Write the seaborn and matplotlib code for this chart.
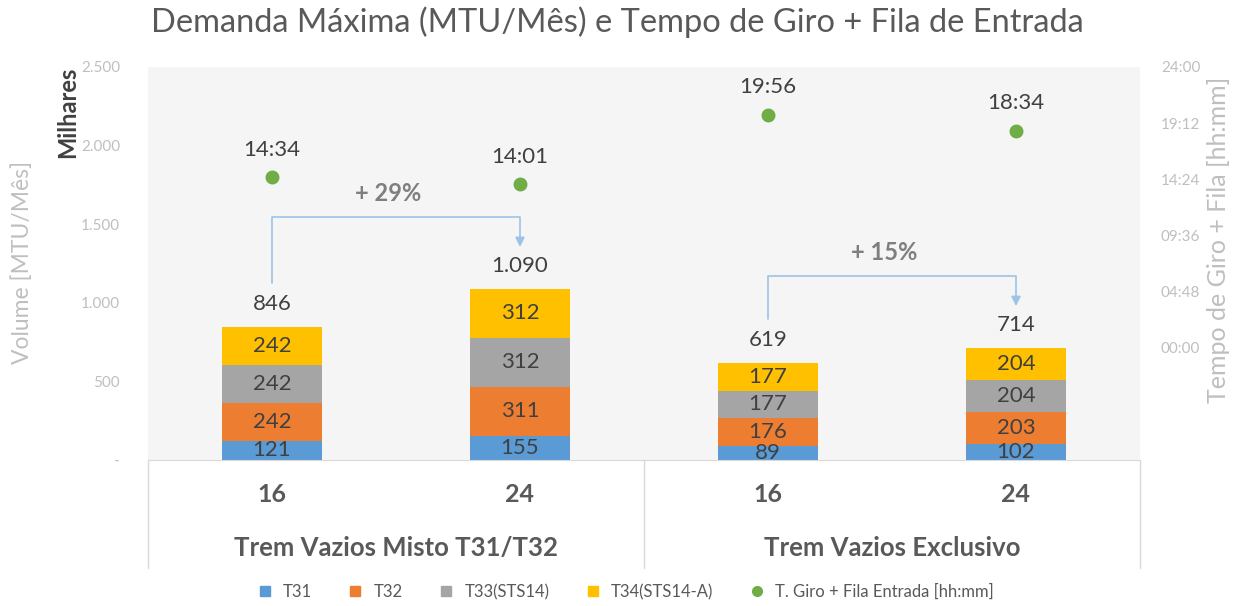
import numpy as np
import pandas as pd
import matplotlib
import matplotlib.pyplot as plt
import seaborn as sns
from matplotlib.lines import Line2D

# Data (volume in thousands of MTU/month, times as hh:mm)
groups = ["Trem Vazios Misto T31/T32", "Trem Vazios Exclusivo"]
trains = ["16", "24", "16", "24"]
config = ["Misto 16", "Misto 24", "Excl 16", "Excl 24"]
t31 = [121, 155, 89, 102]
t32 = [242, 311, 176, 203]
t33 = [242, 312, 177, 204]
t34 = [242, 312, 177, 204]
totals = [846, 1090, 619, 714]
giro = ["14:34", "14:01", "19:56", "18:34"]
growth = ["+ 29%", "+ 15%"]

series = ["T31", "T32", "T33(STS14)", "T34(STS14-A)"]
colors = ["#5B9BD5", "#ED7D31", "#A5A5A5", "#FFC000"]
green = "#70AD47"


def hhmm_to_days(s):
    h, m = s.split(":")
    return (int(h) + int(m) / 60) / 24


def fmt_thousands(v, pos=None):
    if v == 0:
        return "-"
    return f"{int(v):,}".replace(",", ".")


def fmt_hhmm(v, pos=None):
    mins = int(round(v * 24 * 60))
    return f"{mins // 60:02d}:{mins % 60:02d}"


df = pd.DataFrame({"config": config, "T31": t31, "T32": t32, "T33": t33, "T34": t34,
                   "giro": [hhmm_to_days(g) for g in giro]})
stack_cols = ["T31", "T32", "T33", "T34"]
cum = df[stack_cols].cumsum(axis=1)

sns.set_style("white")
plt.rcParams['font.family'] = ['Lato', 'DejaVu Sans']

fig = plt.figure(figsize=(12.4, 6.06), dpi=100)
ax = fig.add_axes([148 / 1240, 1 - 460 / 606, (1140 - 148) / 1240, (460 - 67) / 606])
ax.set_facecolor("#F5F5F5")

# stacked bars: draw cumulative totals from top down
for col, c in zip(reversed(stack_cols), reversed(colors)):
    sns.barplot(x=df["config"], y=cum[col], color=c, width=0.4, saturation=1,
                order=config, ax=ax, zorder=2, linewidth=0, edgecolor="none")

# segment labels
for i in range(len(config)):
    bottom = 0
    for col in stack_cols:
        v = df[col][i]
        ax.text(i, bottom + v / 2, str(v), ha="center", va="center",
                fontsize=16, color="#404040", zorder=5)
        bottom += v
    ax.text(i, totals[i] + 145, fmt_thousands(totals[i]), ha="center", va="center",
            fontsize=16, color="#404040", zorder=5)

ax.set_ylim(0, 2500)
ax.set_xlim(-0.5, 3.5)
ax.set_yticks(np.arange(0, 2501, 500))
ax.yaxis.set_major_formatter(matplotlib.ticker.FuncFormatter(fmt_thousands))
ax.tick_params(axis="y", colors="#BFBFBF", labelsize=11, length=0, pad=20)
ax.set_xticks([])
ax.set_xlabel("")
ax.set_ylabel("")
for s in ["left", "right", "top"]:
    ax.spines[s].set_visible(False)
ax.spines["bottom"].set_color("#D9D9D9")

# growth connectors
line_c = "#9DC3E6"
for k, (a, b) in enumerate([(0, 1), (2, 3)]):
    y0 = totals[a] + 280
    tip = totals[b] + 265
    yh = tip + 190
    ax.plot([a, a, b, b], [y0, yh, yh, tip + 40], color=line_c, lw=1.2, zorder=3)
    ax.annotate("", xy=(b, tip), xytext=(b, tip + 60),
                arrowprops=dict(arrowstyle="-|>", color=line_c, lw=1.2,
                                mutation_scale=14, shrinkA=0, shrinkB=0), zorder=3)
    ax.text((a + b) / 2 - 0.03, yh + 150, growth[k], ha="center", va="center",
            fontsize=17, fontweight="bold", color="#7F7F7F", zorder=5)

# secondary axis: turnaround time
ax2 = ax.twinx()
sns.pointplot(x=df["config"], y=df["giro"], order=config, color=green, linestyle="none",
              markers="o", markersize=8, ax=ax2, zorder=4)
ax2.set_ylim(-0.4, 1.0)
ax2.set_xlim(-0.5, 3.5)
ax2.set_yticks(np.arange(0, 1.01, 0.2))
ax2.yaxis.set_major_formatter(matplotlib.ticker.FuncFormatter(fmt_hhmm))
ax2.tick_params(axis="y", colors="#BFBFBF", labelsize=11, length=0, pad=15)
ax2.set_ylabel("")
ax2.set_xlabel("")
for s in ["left", "right", "top", "bottom"]:
    ax2.spines[s].set_visible(False)
for i, g in enumerate(giro):
    ax2.text(i, df["giro"][i] + 0.097, g, ha="center", va="center",
             fontsize=16, color="#404040")

# multi-level category axis
tr = ax.transAxes
depth = -(568 - 460) / 393
for xa in [0, 0.5, 1]:
    ax.plot([xa, xa], [0, depth], color="#D9D9D9", lw=1, transform=tr, clip_on=False)
for i, t in enumerate(trains):
    ax.text((i + 0.5) / 4, -35 / 393, t, transform=tr, ha="center", va="center",
            fontsize=18, fontweight="bold", color="#595959")
for j, g in enumerate(groups):
    ax.text(0.25 + 0.5 * j, -88 / 393, g, transform=tr, ha="center", va="center",
            fontsize=18.5, fontweight="bold", color="#595959")

# titles and axis labels
fig.text(617 / 1240, 1 - 22 / 606, "Demanda Máxima (MTU/Mês) e Tempo de Giro + Fila de Entrada",
         ha="center", va="center", fontsize=23.5, color="#595959")
fig.text(22 / 1240, 1 - 262 / 606, "Volume [MTU/Mês]", rotation=90, ha="center", va="center",
         fontsize=16.5, color="#BFBFBF")
fig.text(68 / 1240, 1 - 112 / 606, "Milhares", rotation=90, ha="center", va="center",
         fontsize=17, fontweight="bold", color="#404040")
fig.text(1218 / 1240, 1 - 240 / 606, "Tempo de Giro + Fila [hh:mm]", rotation=90,
         ha="center", va="center", fontsize=18, color="#BFBFBF")

# legend
handles = [Line2D([], [], marker="s", linestyle="none", color=c, markersize=7) for c in colors]
handles.append(Line2D([], [], marker="o", linestyle="none", color=green, markersize=7))
labels = series + ["T. Giro + Fila Entrada [hh:mm]"]
fig.legend(handles, labels, loc="center", bbox_to_anchor=(621 / 1240, 1 - 592 / 606), ncol=5,
           frameon=False, fontsize=12, handletextpad=0.1, columnspacing=1.6, labelcolor="#595959")

fig.savefig("out.png", dpi=100)
